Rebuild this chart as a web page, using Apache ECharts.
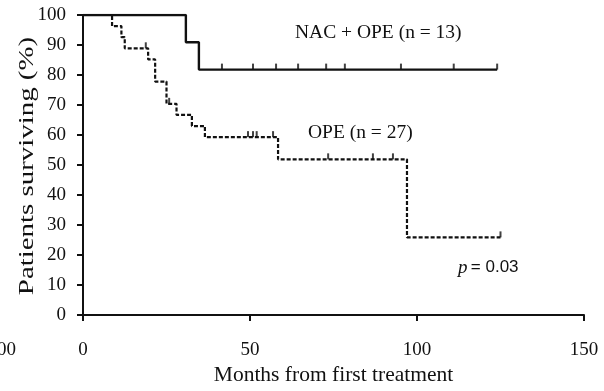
<!DOCTYPE html>
<html>
<head>
<meta charset="utf-8">
<script src="https://cdn.jsdelivr.net/npm/echarts@6/dist/echarts.min.js"></script>
<style>
html, body { margin: 0; padding: 0; background: #fff; }
#main { width: 604px; height: 391px; }
</style>
</head>
<body>
<div id="main"></div>
<script>
// Kaplan-Meier steps: [months, % surviving after that time]
var nacOpe = [[0, 100], [30.8, 90.9], [34.7, 81.8], [124, 81.8]];
var nacOpeCensor = [41.6, 50.9, 57.8, 64.4, 72.8, 78.4, 95.2, 111, 124];

var ope = [[0, 100], [8.7, 96.3], [11.5, 92.6], [12.5, 88.9], [19.5, 85.2],
	[21.6, 77.8], [25, 70.4], [28, 66.7], [32.6, 63.0], [36.5, 59.3],
	[58.4, 51.9], [97, 25.9], [125, 25.9]];
var opeCensorLevel1 = [18.8, 25.8, 49.4, 50.9, 52, 56.9];
var opeCensorLevel1Y = [88.9, 70.4, 59.3, 59.3, 59.3, 59.3];
var opeCensor2 = [73.4, 86.8, 92.8, 125];

var xTicks = [0, 50, 100, 150];
var yTicks = [0, 10, 20, 30, 40, 50, 60, 70, 80, 90, 100];

(function(){
	var myChart = echarts.init(document.getElementById('main'));
	var serif = 'Liberation Serif';

	var c1 = nacOpeCensor.map(function(t){ return [t, 81.8]; });
	var c2 = opeCensorLevel1.map(function(t, i){ return [t, opeCensorLevel1Y[i]]; })
		.concat(opeCensor2.map(function(t, i){ return [t, i < 3 ? 51.9 : 25.9]; }));

	var option = {
		animation: false,
		grid: { left: 83, right: 20, top: 15, bottom: 74 },
		xAxis: {
			type: 'value', min: 0, max: 150, interval: 50,
			name: 'Months from first treatment',
			nameLocation: 'middle', nameGap: 46,
			nameTextStyle: { fontFamily: serif, fontSize: 21.5, color: '#111' },
			axisLine: { lineStyle: { color: '#111', width: 2 } },
			axisTick: { length: 6, lineStyle: { color: '#111', width: 2 } },
			axisLabel: { margin: 25, fontFamily: serif, fontSize: 19, color: '#111' },
			splitLine: { show: false }
		},
		yAxis: {
			type: 'value', min: 0, max: 100, interval: 10,
			axisLine: { show: true, lineStyle: { color: '#111', width: 2 } },
			axisTick: { show: true, length: 6, lineStyle: { color: '#111', width: 2 } },
			axisLabel: { margin: 17, fontFamily: serif, fontSize: 19, color: '#111' },
			splitLine: { show: false }
		},
		series: [
			{
				name: 'OPE (n = 27)', type: 'line', step: 'end', symbol: 'none',
				data: ope,
				lineStyle: { color: '#111', width: 2.2, type: [4, 2] }
			},
			{
				name: 'NAC + OPE (n = 13)', type: 'line', step: 'end', symbol: 'none',
				data: nacOpe,
				lineStyle: { color: '#111', width: 2.4 }
			},
			{
				type: 'scatter', data: c1, symbol: 'rect', symbolSize: [2, 6],
				symbolOffset: [0, -3], itemStyle: { color: '#111' }
			},
			{
				type: 'scatter', data: c2, symbol: 'rect', symbolSize: [2, 6],
				symbolOffset: [0, -3], itemStyle: { color: '#111' }
			}
		],
		graphic: [
			{ type: 'text', x: 28, y: 166, rotation: Math.PI / 2, scaleX: 1.52, scaleY: 1.05,
				style: { text: 'Patients surviving (%)', fontFamily: serif, fontSize: 19, fill: '#111',
					align: 'center', verticalAlign: 'middle' } },
			{ type: 'text', left: 295, top: 23, style: { text: 'NAC + OPE (n = 13)', fontFamily: serif, fontSize: 19.5, fill: '#111' } },
			{ type: 'text', left: 308, top: 123, style: { text: 'OPE (n = 27)', fontFamily: serif, fontSize: 19.5, fill: '#111' } },
			{ type: 'text', left: 458, top: 258, style: {
				rich: {
					p: { fontFamily: serif, fontStyle: 'italic', fontSize: 19, fill: '#111' },
					n: { fontFamily: 'Liberation Sans', fontSize: 17, fill: '#111' }
				},
				text: '{p|p} {n|= 0.03}' } },
			{ type: 'text', left: -3, top: 341, style: { text: '00', fontFamily: serif, fontSize: 19, fill: '#111' } }
		]
	};

	myChart.setOption(option);
})();
</script>
</body>
</html>
